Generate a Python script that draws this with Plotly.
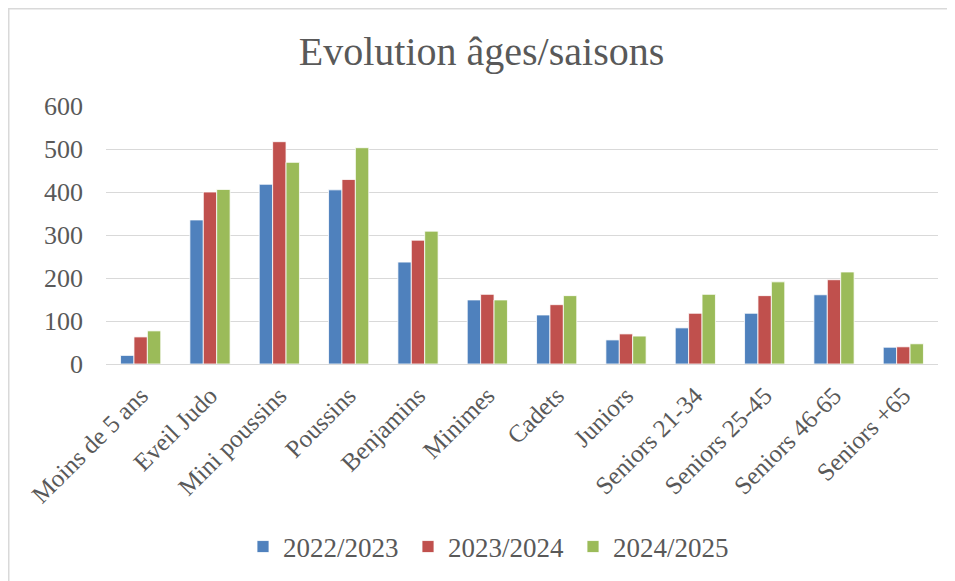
import plotly.graph_objects as go

categories = ["Moins de 5 ans", "Eveil Judo", "Mini poussins", "Poussins", "Benjamins",
              "Minimes", "Cadets", "Juniors", "Seniors 21-34", "Seniors 25-45",
              "Seniors 46-65", "Seniors +65"]
s2022 = [20, 335, 418, 405, 237, 149, 114, 56, 84, 118, 161, 39]
s2023 = [63, 400, 517, 429, 288, 162, 138, 70, 118, 159, 196, 40]
s2024 = [77, 406, 469, 503, 309, 149, 159, 65, 162, 191, 214, 47]
series_names = ["2022/2023", "2023/2024", "2024/2025"]
colors = ["#4F81BD", "#C0504D", "#9BBB59"]

# page has an 8px body margin: lay out in page pixels, then convert
OFF = 8
PW, PH = 955, 581
W, H = PW - OFF, PH - OFF
L, R, T, B = 106 - OFF, 17, 106 - OFF, 217
pw, ph = W - L - R, H - T - B

font = "Liberation Serif"
grey = "#595959"

fig = go.Figure()
for name, vals, c in zip(series_names, [s2022, s2023, s2024], colors):
    fig.add_trace(go.Bar(x=categories, y=vals, name=name, marker_color=c,
                         marker_line=dict(color="white", width=0.8)))

def px_x(p):  # page pixel -> paper
    return (p - OFF - L) / pw

def px_y(p):
    return (H - B - (p - OFF)) / ph

fig.update_layout(
    width=W, height=H,
    margin=dict(l=L, r=R, t=T, b=B, autoexpand=False),
    paper_bgcolor="white", plot_bgcolor="white",
    barmode="group", bargap=0.42, bargroupgap=0,
    font=dict(family=font, color=grey, size=25),
    title=dict(text="Evolution âges/saisons", x=0.5, xanchor="center",
               y=1 - (51 - OFF) / H, yanchor="middle",
               font=dict(family=font, size=40, color=grey)),
    showlegend=True,
    legend=dict(orientation="h", x=px_x(259 - 16), xanchor="left", y=px_y(547), yanchor="middle",
                font=dict(family=font, size=27, color=grey), itemwidth=30,
                entrywidth=120, entrywidthmode="pixels", traceorder="normal"),
    xaxis=dict(tickangle=-45, showgrid=False, showline=True, linecolor="#D9D9D9", linewidth=1,
               tickfont=dict(family=font, size=25, color=grey), ticks="", ticklabelstandoff=6,
               automargin=False),
    yaxis=dict(range=[0, 600], dtick=100, showgrid=True, gridcolor="#D9D9D9", gridwidth=1.2,
               zeroline=True, zerolinecolor="#D9D9D9", zerolinewidth=1.2, showline=False,
               tickfont=dict(family=font, size=26, color=grey), ticks="", ticklabelstandoff=22,
               automargin=False),
    shapes=[dict(type="rect", xref="paper", yref="paper",
                 x0=px_x(OFF + 0.75), x1=px_x(PW + 20), y0=px_y(PH + 20), y1=px_y(8.75),
                 line=dict(color="#D9D9D9", width=1.5), fillcolor="rgba(0,0,0,0)", layer="below")],
)

fig.write_html("out.html")
